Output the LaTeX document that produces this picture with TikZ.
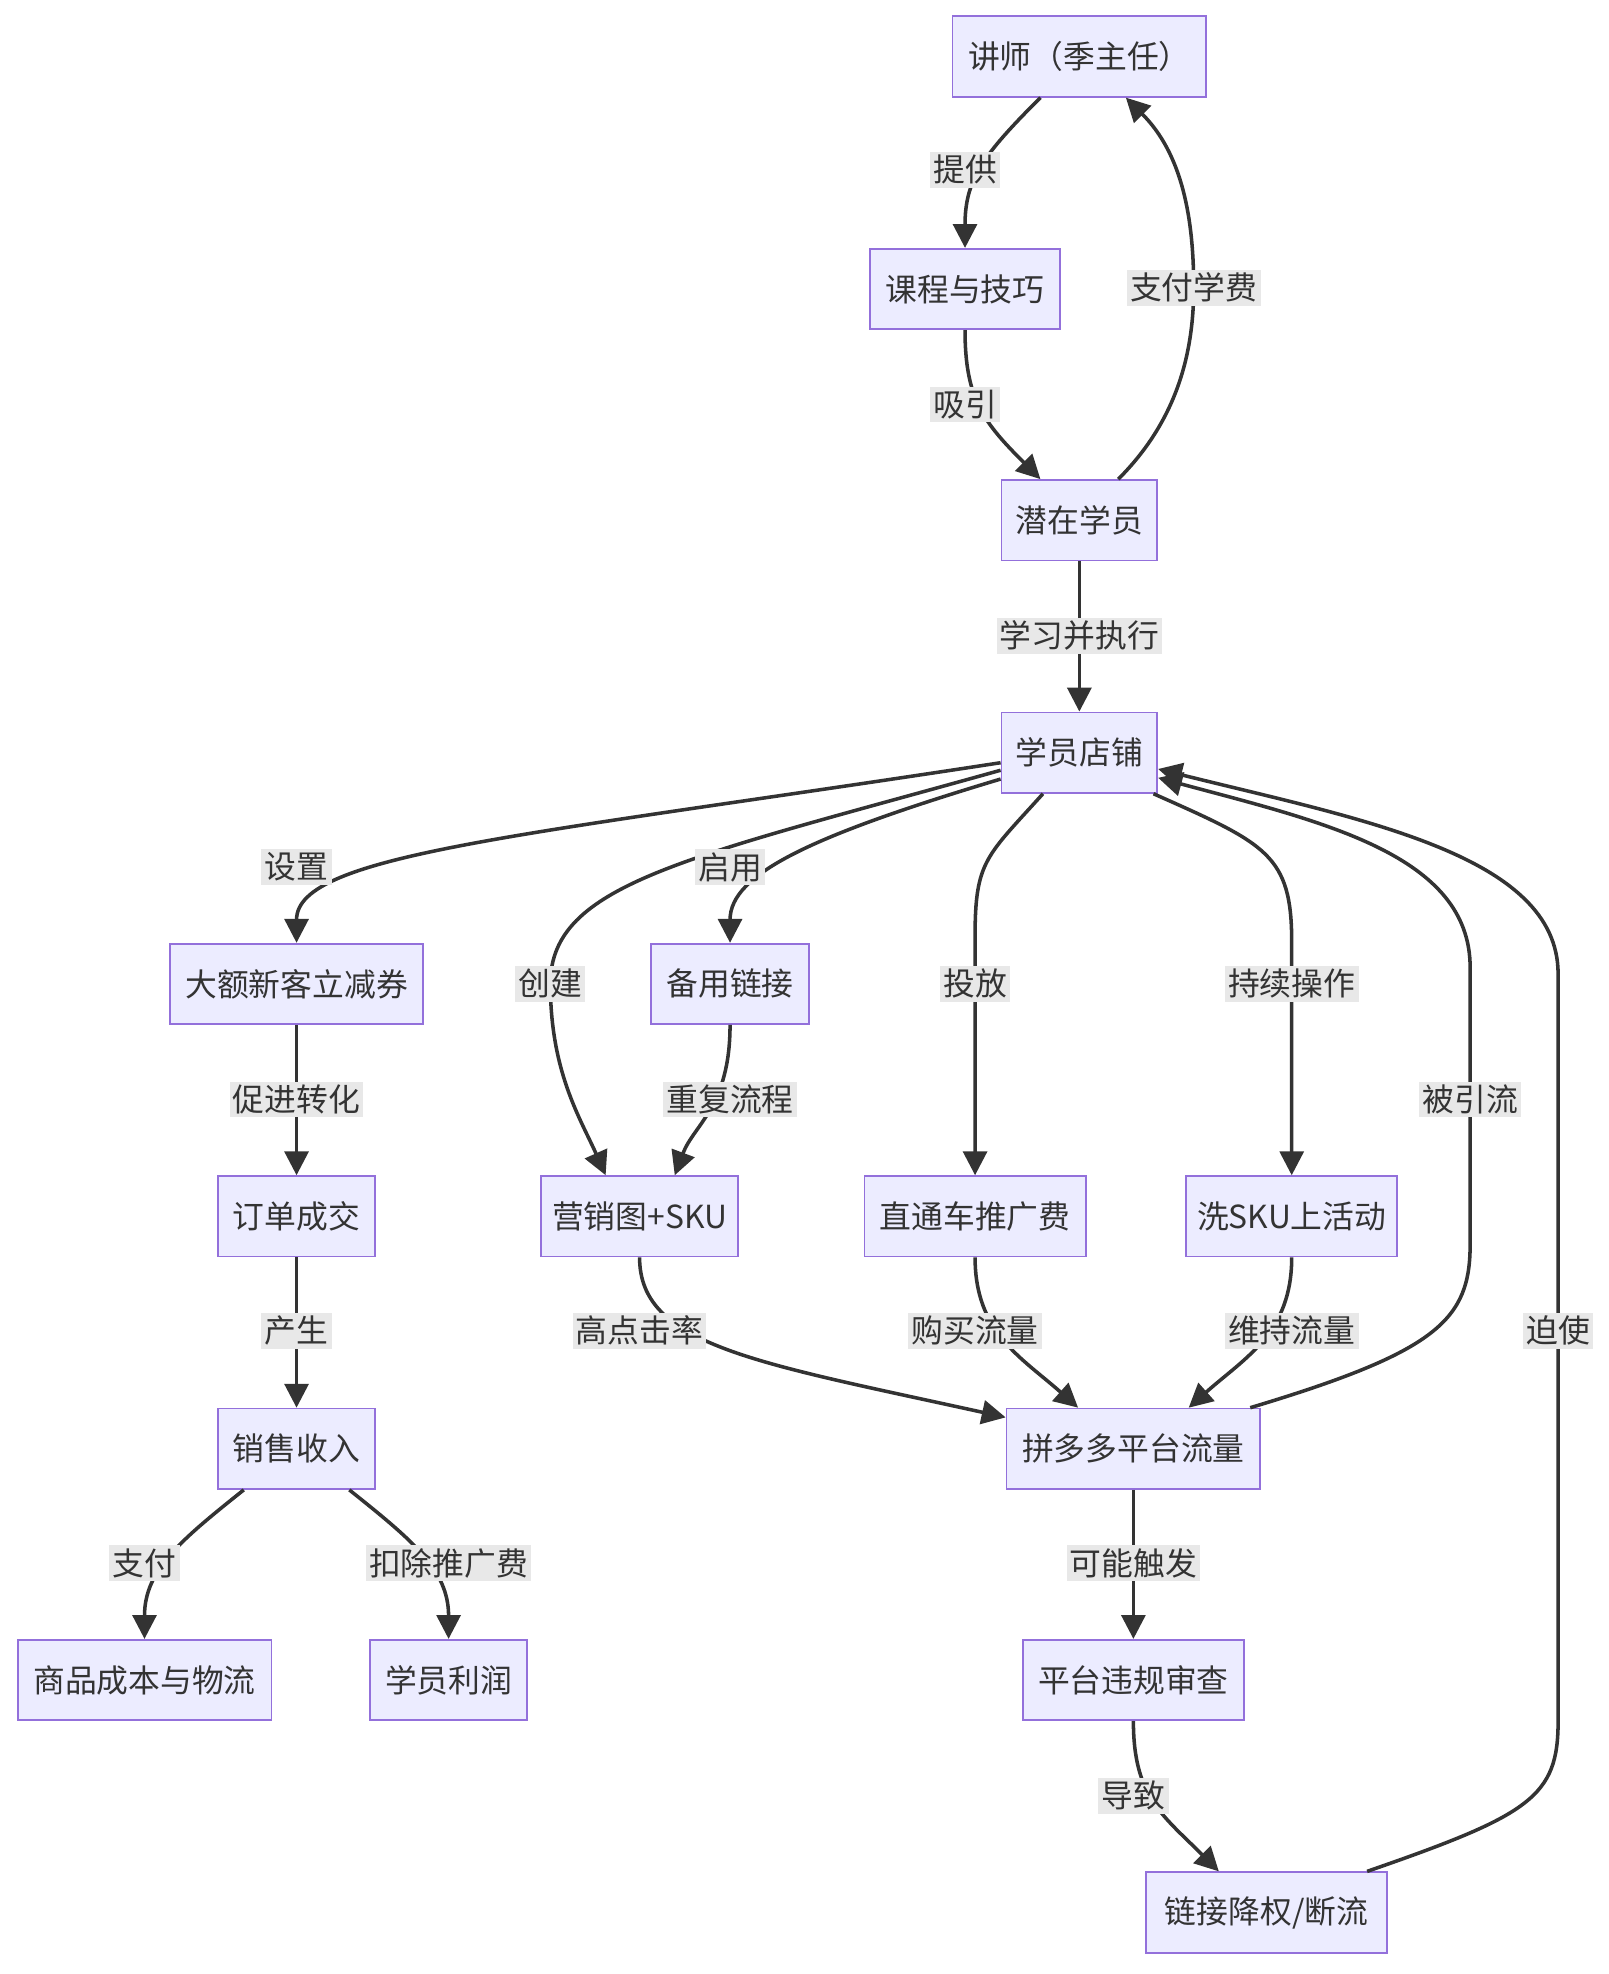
\documentclass[tikz,border=0pt]{standalone}
\usepackage{fontspec}
\newfontfamily\cjk{Noto Sans CJK SC}
\usetikzlibrary{arrows.meta,calc}
\definecolor{boxfill}{HTML}{ECECFF}
\definecolor{boxline}{HTML}{9370DB}
\definecolor{ink}{HTML}{333333}
\definecolor{lblbg}{HTML}{E8E8E8}

\begin{document}
\begin{tikzpicture}[x=0.02cm,y=-0.02cm]
        \tikzstyle{box}=[draw=boxline,fill=boxfill,line width=0.8pt,text=ink,font=\cjk\fontsize{14.4pt}{17pt}\selectfont,minimum height=1.28cm,inner sep=0pt]
        \tikzstyle{lbl}=[fill=lblbg,text=ink,font=\cjk\fontsize{14.4pt}{17pt}\selectfont,inner sep=1.5pt]
        \tikzstyle{edge}=[draw=ink,line width=1.6pt,-{Triangle[length=0.38cm,width=0.38cm]}]
        \fill[white] (0,0) rectangle (1280,1571);
        \useasboundingbox (0,0) rectangle (1280,1571);
        % nodes
        \node[box,minimum width=4.04cm] (teacher) at (859,45) {讲师（季主任）};
        \node[box,minimum width=3.02cm] (course) at (768,230) {课程与技巧};
        \node[box,minimum width=2.48cm] (student) at (859,414) {潜在学员};
        \node[box,minimum width=2.48cm] (shop) at (859,599) {学员店铺};
        \node[box,minimum width=4.02cm] (coupon) at (236,783) {大额新客立减券};
        \node[box,minimum width=2.52cm] (backup) at (581,783) {备用链接};
        \node[box,minimum width=2.5cm] (order) at (236,968) {订单成交};
        \node[box,minimum width=3.14cm] (mkt) at (509,968) {营销图+SKU};
        \node[box,minimum width=3.52cm] (ztc) at (776,968) {直通车推广费};
        \node[box,minimum width=3.36cm] (wash) at (1028,968) {洗SKU上活动};
        \node[box,minimum width=2.5cm] (sales) at (236,1153) {销售收入};
        \node[box,minimum width=4.04cm] (traffic) at (902,1153) {拼多多平台流量};
        \node[box,minimum width=4.04cm] (cost) at (115,1337) {商品成本与物流};
        \node[box,minimum width=2.5cm] (profit) at (357,1337) {学员利润};
        \node[box,minimum width=3.52cm] (review) at (902,1337) {平台违规审查};
        \node[box,minimum width=3.84cm] (demote) at (1008,1522) {链接降权/断流};
        % edges
        \draw[edge] ($(teacher.south)+(-31,0)$) .. controls +(-45,45) and +(0,-55) .. (course.north) node[lbl] at (768,135) {提供};
        \draw[edge] (course.south) .. controls +(0,55) and +(-45,-45) .. ($(student.north)+(-31,0)$) node[lbl] at (768,322) {吸引};
        \draw[edge] ($(student.north)+(31,0)$) .. controls +(45,-45) and +(0,55) .. (950,229) .. controls +(0,-55) and +(45,45) .. ($(teacher.south)+(37,0)$) node[lbl] at (950,229) {支付学费};
        \draw[edge] (student) -- (shop) node[lbl] at (859,506) {学习并执行};
        \draw[edge] ($(shop.west)+(0,8)$) .. controls +(-377,58) and +(0,-71) .. (coupon.north) node[lbl] at (236,690) {设置};
        \draw[edge] ($(shop.west)+(0,14)$) .. controls +(-250,70) and +(0,-80) .. (438,783) .. controls +(0,70) and +(-20,-45) .. ($(mkt.north)+(-27,0)$) node[lbl] at (438,783) {创建};
        \draw[edge] ($(shop.west)+(0,21)$) .. controls +(-150,45) and +(0,-55) .. (backup.north) node[lbl] at (581,690) {启用};
        \draw[edge] ($(shop.south)+(-29,0)$) .. controls +(-45,50) and +(0,-60) .. (776,745) -- (ztc.north) node[lbl] at (776,783) {投放};
        \draw[edge] ($(shop.south)+(59,0)$) .. controls +(90,40) and +(0,-70) .. (1028,750) -- (wash.north) node[lbl] at (1028,783) {持续操作};
        \draw[edge] (backup.south) .. controls +(0,65) and +(15,-40) .. ($(mkt.north)+(28,0)$) node[lbl] at (581,875) {重复流程};
        \draw[edge] (coupon) -- (order) node[lbl] at (236,875) {促进转化};
        \draw[edge] (order) -- (sales) node[lbl] at (236,1059) {产生};
        \draw[edge] (mkt.south) .. controls +(0,70) and +(-200,-44) .. ($(traffic.west)+(0,-25)$) node[lbl] at (509,1059) {高点击率};
        \draw[edge] (ztc.south) .. controls +(0,60) and +(-45,-40) .. ($(traffic.north)+(-44,0)$) node[lbl] at (776,1059) {购买流量};
        \draw[edge] (wash.south) .. controls +(0,60) and +(45,-40) .. ($(traffic.north)+(44,0)$) node[lbl] at (1028,1059) {维持流量};
        \draw[edge] ($(traffic.north)+(93,0)$) .. controls +(150,-45) and +(0,60) .. (1170,990) -- (1170,770) .. controls +(0,-90) and +(130,35) .. ($(shop.east)+(0,20)$) node[lbl] at (1170,875) {被引流};
        \draw[edge] ($(sales.south)+(-42,0)$) .. controls +(-50,40) and +(0,-55) .. (cost.north) node[lbl] at (115,1244) {支付};
        \draw[edge] ($(sales.south)+(42,0)$) .. controls +(50,40) and +(0,-55) .. (profit.north) node[lbl] at (357,1244) {扣除推广费};
        \draw[edge] (traffic) -- (review) node[lbl] at (902,1244) {可能触发};
        \draw[edge] (review.south) .. controls +(0,60) and +(-45,-45) .. ($(demote.north)+(-38,0)$) node[lbl] at (902,1429) {导致};
        \draw[edge] ($(demote.north)+(80,0)$) .. controls +(130,-45) and +(0,60) .. (1240,1370) -- (1240,775) .. controls +(0,-95) and +(160,40) .. ($(shop.east)+(0,13)$) node[lbl] at (1240,1059) {迫使};
\end{tikzpicture}
\end{document}
